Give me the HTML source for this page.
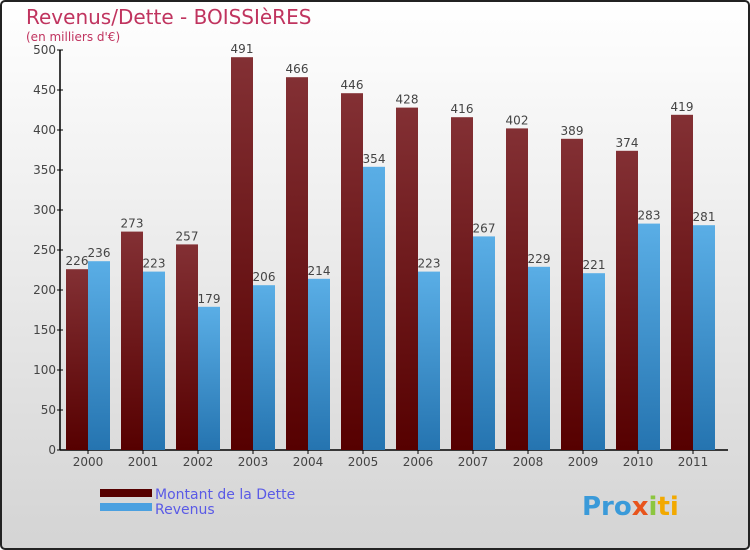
<!DOCTYPE html>
<html><head><meta charset="utf-8"><style>
body{margin:0;}
#wrap{width:750px;height:550px;position:relative;overflow:hidden;}
svg text{font-family:"DejaVu Sans","Liberation Sans",sans-serif;}
</style></head><body>
<div id="wrap">
<svg id="c" width="750" height="550" xmlns="http://www.w3.org/2000/svg">
<defs>
<linearGradient id="bg" x1="0" y1="0" x2="0" y2="1"><stop offset="0" stop-color="#ffffff"/><stop offset="1" stop-color="#d4d4d4"/></linearGradient>
<linearGradient id="gd" x1="0" y1="0" x2="0" y2="1"><stop offset="0" stop-color="#833034"/><stop offset="1" stop-color="#560000"/></linearGradient>
<linearGradient id="gr" x1="0" y1="0" x2="0" y2="1"><stop offset="0" stop-color="#5aaee6"/><stop offset="1" stop-color="#2574b0"/></linearGradient>
</defs>
<rect x="1" y="1" width="748" height="548" rx="4" fill="url(#bg)" stroke="#222" stroke-width="2"/>
<text x="26" y="24" font-size="20" fill="#c0345f">Revenus/Dette - BOISSIèRES</text>
<text x="26" y="41" font-size="12" fill="#c0345f">(en milliers d'€)</text>
<g id="plot"></g>
<rect x="100" y="489" width="52" height="8" fill="#560000"/>
<text x="155" y="499" font-size="14" fill="#5a5ae6">Montant de la Dette</text>
<rect x="100" y="503" width="52" height="8" fill="#4aa0e0"/>
<text x="155" y="514" font-size="14" fill="#5a5ae6">Revenus</text>
<text x="582" y="515" font-size="26" font-weight="bold" fill="#3a9ad9">Pro<tspan fill="#e8541c">x</tspan><tspan fill="#8cc63f">i</tspan><tspan fill="#f2a900">ti</tspan></text>
</svg>
</div>
<script>
const years=["2000","2001","2002","2003","2004","2005","2006","2007","2008","2009","2010","2011"];
const dette=[226,273,257,491,466,446,428,416,402,389,374,419];
const revenus=[236,223,179,206,214,354,223,267,229,221,283,281];
const yTicks=[0,50,100,150,200,250,300,350,400,450,500];
const NS="http://www.w3.org/2000/svg";
const g=document.getElementById('plot');
const X0=60,Y0=450,CW=55,BW=22;
const yS=v=>Y0-v*0.8;
const xC=i=>X0+28+i*CW;
function mk(t,a,txt){const e=document.createElementNS(NS,t);for(const k in a)e.setAttribute(k,a[k]);if(txt!==undefined)e.textContent=txt;g.appendChild(e);return e;}
let ax=mk('line',{x1:X0,y1:yS(500),x2:X0,y2:Y0,stroke:'#000','stroke-width':1.5});


let bx=mk('line',{x1:X0,y1:Y0,x2:X0+12*CW+8,y2:Y0,stroke:'#000','stroke-width':1.5});


yTicks.forEach(v=>{
 let t=mk('line',{x1:X0-3,y1:yS(v),x2:X0+3,y2:yS(v),stroke:'#000'});
 
 
 let l=mk('text',{x:X0-4,y:yS(v)+4,'font-size':12,'text-anchor':'end',fill:'#444'},v);
 
 
});
years.forEach((y,i)=>{
 const c=xC(i);
 let t=mk('line',{x1:c,y1:Y0,x2:c,y2:Y0+4,stroke:'#000'});
 
 
 let l=mk('text',{x:c,y:Y0+16,'font-size':12,'text-anchor':'middle',fill:'#444'},y);
 
 
 let b1=mk('rect',{x:c-BW,y:yS(dette[i]),width:BW,height:Y0-yS(dette[i]),fill:'url(#gd)'});
 
 
 let b2=mk('rect',{x:c,y:yS(revenus[i]),width:BW,height:Y0-yS(revenus[i]),fill:'url(#gr)'});
 
 
 let v1=mk('text',{x:c-BW/2,y:yS(dette[i])-4,'font-size':12,'text-anchor':'middle',fill:'#444'},dette[i]);
 
 
 let v2=mk('text',{x:c+BW/2,y:yS(revenus[i])-4,'font-size':12,'text-anchor':'middle',fill:'#444'},revenus[i]);
 
 
});
</script>
</body></html>
